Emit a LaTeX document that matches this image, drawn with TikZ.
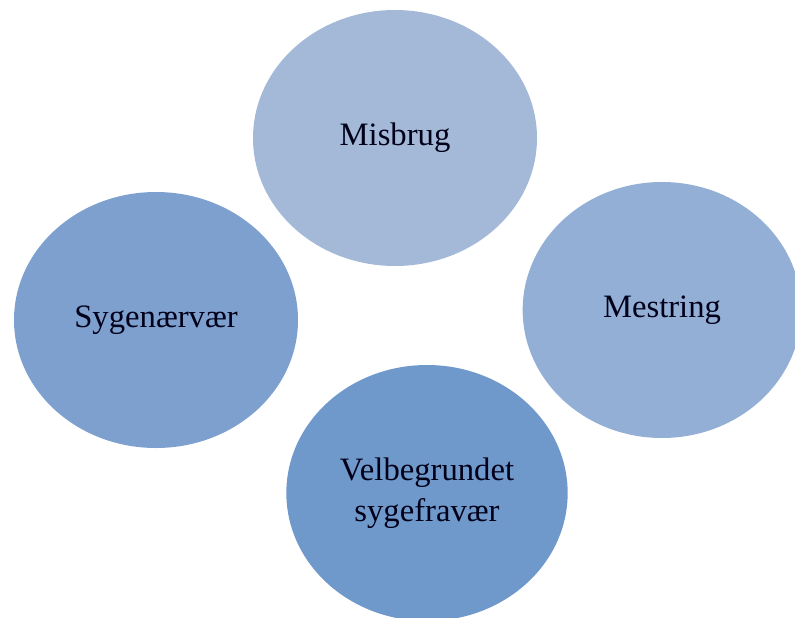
\documentclass[tikz,border=0pt]{standalone}
\usepackage{fontspec}
\setmainfont{Liberation Serif}
\usetikzlibrary{shapes.geometric}

\begin{document}
\begin{tikzpicture}[x=0.75pt, y=-0.75pt,
  bubble/.style={ellipse, draw=none, inner sep=0pt, align=center,
    minimum width=213pt, minimum height=192pt,
    font=\fontsize{24.5}{31}\selectfont, text=black!90!blue}]
\definecolor{misbrugcol}{RGB}{164,185,216}
\definecolor{sygecol}{RGB}{126,160,206}
\definecolor{mestringcol}{RGB}{147,175,213}
\definecolor{velbegcol}{RGB}{112,153,203}
\useasboundingbox (0,0) rectangle (795,617);
\clip (0,0) rectangle (795,617);
% top bubble
\node[bubble, fill=misbrugcol] (misbrug) at (395,138) {Misbrug};
% left bubble
\node[bubble, fill=sygecol] (syge) at (156,320) {Sygenærvær};
% right bubble (cut at the edge)
\node[bubble, fill=mestringcol, minimum width=209pt] (mestring) at (662,310) {Mestring};
% bottom bubble (cut at the edge)
\node[bubble, fill=velbegcol, minimum width=211pt] (velbeg) at (427,493) {Velbegrundet\\sygefravær};
\end{tikzpicture}
\end{document}
